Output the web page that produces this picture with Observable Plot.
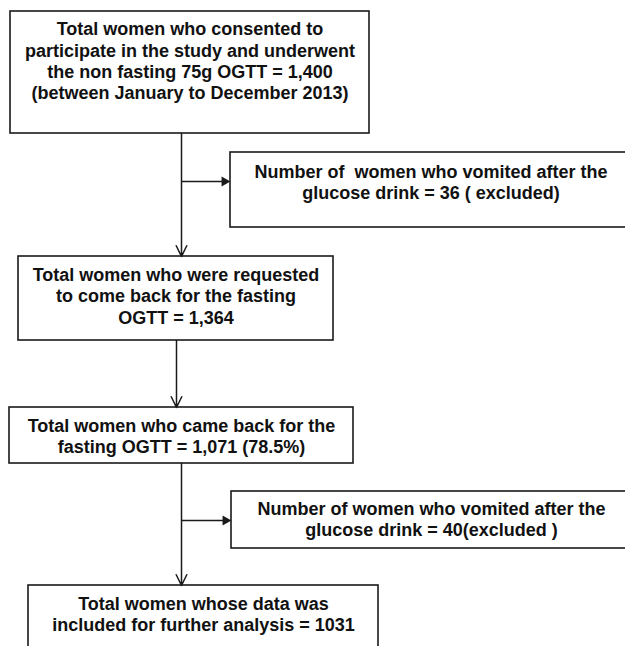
<!DOCTYPE html>
<html>
<head>
<meta charset="utf-8">
<script src="https://cdn.jsdelivr.net/npm/d3@7"></script>
<script src="https://cdn.jsdelivr.net/npm/@observablehq/plot@0.6"></script>
<style>
  html, body { margin: 0; padding: 0; background: #fff; }
  svg text { white-space: pre; }
</style>
</head>
<body>
<div id="chart"></div>
<script>
// Flowchart content
const labels = [
  "Total women who consented to\nparticipate in the study and underwent\nthe non fasting 75g OGTT = 1,400\n(between January to December 2013)",
  "Number of  women who vomited after the\nglucose drink = 36 ( excluded)",
  "Total women who were requested\nto come back for the fasting\nOGTT = 1,364",
  "Total women who came back for the\nfasting OGTT = 1,071 (78.5%)",
  "Number of women who vomited after the\nglucose drink = 40(excluded )",
  "Total women whose data was\nincluded for further analysis = 1031"
];
const boxLeft   = [10, 230, 18, 9, 231, 28];
const boxRight  = [369, 631, 333, 353, 631, 378];
const boxTop    = [11, 152, 256, 407, 491, 585];
const boxBottom = [133, 227, 340, 463, 548, 665];
const textY     = [60, 181, 295, 435, 518, 613];

// Main-flow connectors (open arrowheads): x, from y, to y
const flowX     = [181, 176, 181];
const flowFrom  = [133, 340, 463];
const flowTo    = [256, 407, 585];

// Exclusion branches (filled arrowheads): y, from x, to x
const branchY    = [181, 520];
const branchFrom = [181, 181];
const branchTo   = [230, 231];

const boxes = labels.map((label, i) => ({
  label, x1: boxLeft[i], x2: boxRight[i], y1: boxTop[i], y2: boxBottom[i],
  cx: (boxLeft[i] + boxRight[i]) / 2, ty: textY[i]
}));
const flows = flowX.map((x, i) => ({x, y1: flowFrom[i], y2: flowTo[i]}));
const branches = branchY.map((y, i) => ({y, x1: branchFrom[i], x2: branchTo[i]}));

const ink = "#1a1a1a";

const chart = Plot.plot({
  width: 625,
  height: 646,
  margin: 0,
  style: {background: "#fff", fontFamily: "'Liberation Sans', Arial, sans-serif"},
  x: {domain: [0, 625], range: [0, 625], axis: null},
  y: {domain: [0, 646], range: [0, 646], axis: null},
  marks: [
    Plot.rect(boxes, {x1: "x1", x2: "x2", y1: "y1", y2: "y2", fill: "#fff", stroke: ink, strokeWidth: 1.6}),
    Plot.arrow(flows, {x1: "x", x2: "x", y1: "y1", y2: "y2", stroke: ink, strokeWidth: 1.5, headLength: 12, headAngle: 52}),
    Plot.link(branches, {x1: "x1", x2: d => d.x2 - 8, y1: "y", y2: "y", stroke: ink, strokeWidth: 1.5}),
    Plot.dot(branches, {x: "x2", y: "y", dx: -6, symbol: "triangle", rotate: 90, r: 3.8, fill: ink, stroke: "none"}),
    Plot.text(boxes, {x: "cx", y: "ty", text: "label", textAnchor: "middle", lineAnchor: "middle",
      lineHeight: 1.18, fontSize: 18, fontWeight: "bold", fill: "#111"})
  ]
});
document.getElementById("chart").appendChild(chart);
</script>
</body>
</html>
